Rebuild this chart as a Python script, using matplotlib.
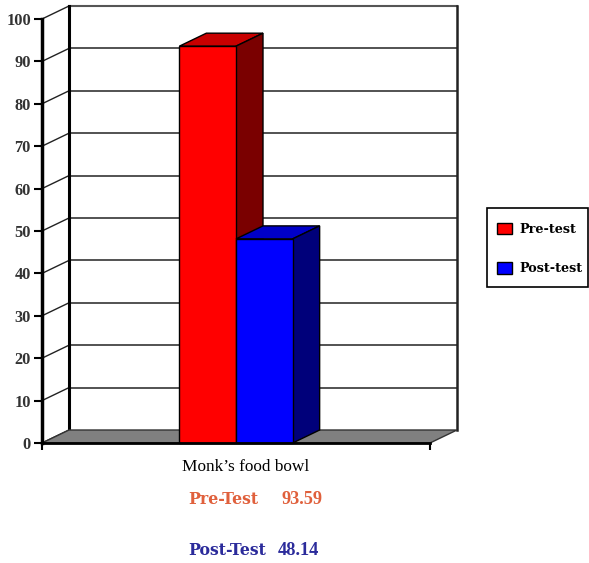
import matplotlib
matplotlib.use("Agg")
import matplotlib.pyplot as plt
from matplotlib.patches import Polygon, Rectangle

# ---- data ----
categories = ["Monk\u2019s food bowl"]
series = ["Pre-test", "Post-test"]
values = [93.59, 48.14]
summary_labels = ["Pre-Test", "Post-Test"]
yticks = [0, 10, 20, 30, 40, 50, 60, 70, 80, 90, 100]

# ---- styles ----
front_cols = ["#FF0000", "#0000FF"]
top_cols = ["#C80000", "#0000C8"]
side_cols = ["#7A0000", "#00007A"]
text_cols = ["#E0603C", "#2B2B9B"]
SERIF = "Liberation Serif"
WIDE_SERIF = "DejaVu Serif"

fig = plt.figure(figsize=(5.89, 5.63), dpi=100)
ax = fig.add_axes([42 / 589, 120 / 563, 388 / 589, 424 / 563])
ax.set_xlim(0, 1)
ax.set_ylim(0, 100)
ax.set_facecolor("none")

# depth offset (data units)
DX = 27 / 388
DY = 13 / 4.24

# back wall
wall = Polygon([(DX, DY), (1 + DX, DY), (1 + DX, 100 + DY), (DX, 100 + DY)],
               closed=True, facecolor="white", edgecolor="none", zorder=0, clip_on=False)
ax.add_patch(wall)
for t in yticks[1:-1]:
    ax.plot([DX, 1 + DX], [t + DY, t + DY], color="#444444", lw=1.3, zorder=1, clip_on=False)
for t in yticks:
    ax.plot([0, DX], [t, t + DY], color="#222222", lw=1.0, zorder=1, clip_on=False)
ax.plot([DX, 1 + DX], [100 + DY, 100 + DY], color="#555555", lw=1.5, zorder=1, clip_on=False)
ax.plot([DX, DX], [DY, 100 + DY], color="black", lw=2.2, zorder=1, clip_on=False)
ax.plot([1 + DX, 1 + DX], [DY, 100 + DY], color="#222222", lw=1.8, zorder=1, clip_on=False)

# floor
floor = Polygon([(0, 0), (1, 0), (1 + DX, DY), (DX, DY)], closed=True,
                facecolor="#808080", edgecolor="#333333", lw=1, zorder=2, clip_on=False)
ax.add_patch(floor)

# bars
w = 0.146
lefts = [0.5 - w, 0.5]
handles = []
for i, (v, lab) in enumerate(zip(values, series)):
    x0 = lefts[i]
    x1 = x0 + w
    b = ax.bar(x0, v, width=w, align="edge", color=front_cols[i], edgecolor="black",
               lw=1, zorder=4 + i * 2, label=lab, clip_on=False)
    handles.append(b[0])
    top = Polygon([(x0, v), (x1, v), (x1 + DX, v + DY), (x0 + DX, v + DY)], closed=True,
                  facecolor=top_cols[i], edgecolor="black", lw=1, zorder=3 + i * 2, clip_on=False)
    side = Polygon([(x1, 0), (x1 + DX, DY), (x1 + DX, v + DY), (x1, v)], closed=True,
                   facecolor=side_cols[i], edgecolor="black", lw=1, zorder=3 + i * 2, clip_on=False)
    ax.add_patch(top)
    ax.add_patch(side)

# axes spines & ticks
for s in ["top", "right"]:
    ax.spines[s].set_visible(False)
ax.spines["left"].set_linewidth(2.5)
ax.spines["left"].set_zorder(10)
ax.spines["bottom"].set_linewidth(2)
ax.spines["bottom"].set_zorder(10)
ax.set_yticks(yticks)
ax.set_yticklabels([str(t) for t in yticks])
ax.tick_params(axis="y", direction="out", length=6, width=1.5, pad=2, colors="black",
               labelcolor="#333333")
for lbl in ax.get_yticklabels():
    lbl.set_fontfamily(SERIF)
    lbl.set_fontweight("bold")
    lbl.set_fontsize(11.8)
ax.set_xticks([0, 1])
ax.set_xticklabels(["", ""])
ax.tick_params(axis="x", direction="out", length=5, width=1.5)

# category label
ax.text(0.526, -5.7, categories[0], ha="center", va="center", fontsize=12.4,
        fontfamily=SERIF, color="black")

# summary texts (label + value)
label_x = 0.376
value_x = [(282 - 42) / 388, (278 - 42) / 388]
rows_y = [-13.3, -25.3]
for i in range(2):
    ax.text(label_x, rows_y[i], summary_labels[i], ha="left", va="center",
            fontsize=11.3, fontweight="bold", fontfamily=WIDE_SERIF, color=text_cols[i])
    ax.text(value_x[i], rows_y[i], f"{values[i]:.2f}", ha="left", va="center",
            fontsize=13.2, fontweight="bold", fontfamily=SERIF, color=text_cols[i])

# legend box (frame drawn separately)
fig.patches.append(Rectangle((487 / 589, (563 - 287) / 563), 101 / 589, 79 / 563,
                             transform=fig.transFigure, facecolor="white",
                             edgecolor="black", lw=1.2, zorder=0))
leg = fig.legend(handles=handles, labels=series, loc="upper left",
                 bbox_to_anchor=(497 / 589, (563 - 223) / 563), frameon=False,
                 handlelength=1.18, handleheight=1.0, labelspacing=2.05,
                 borderpad=0, handletextpad=0.6, borderaxespad=0,
                 prop={"family": WIDE_SERIF, "weight": "bold", "size": 9.2})

fig.savefig("out.png", dpi=100, facecolor="white")
